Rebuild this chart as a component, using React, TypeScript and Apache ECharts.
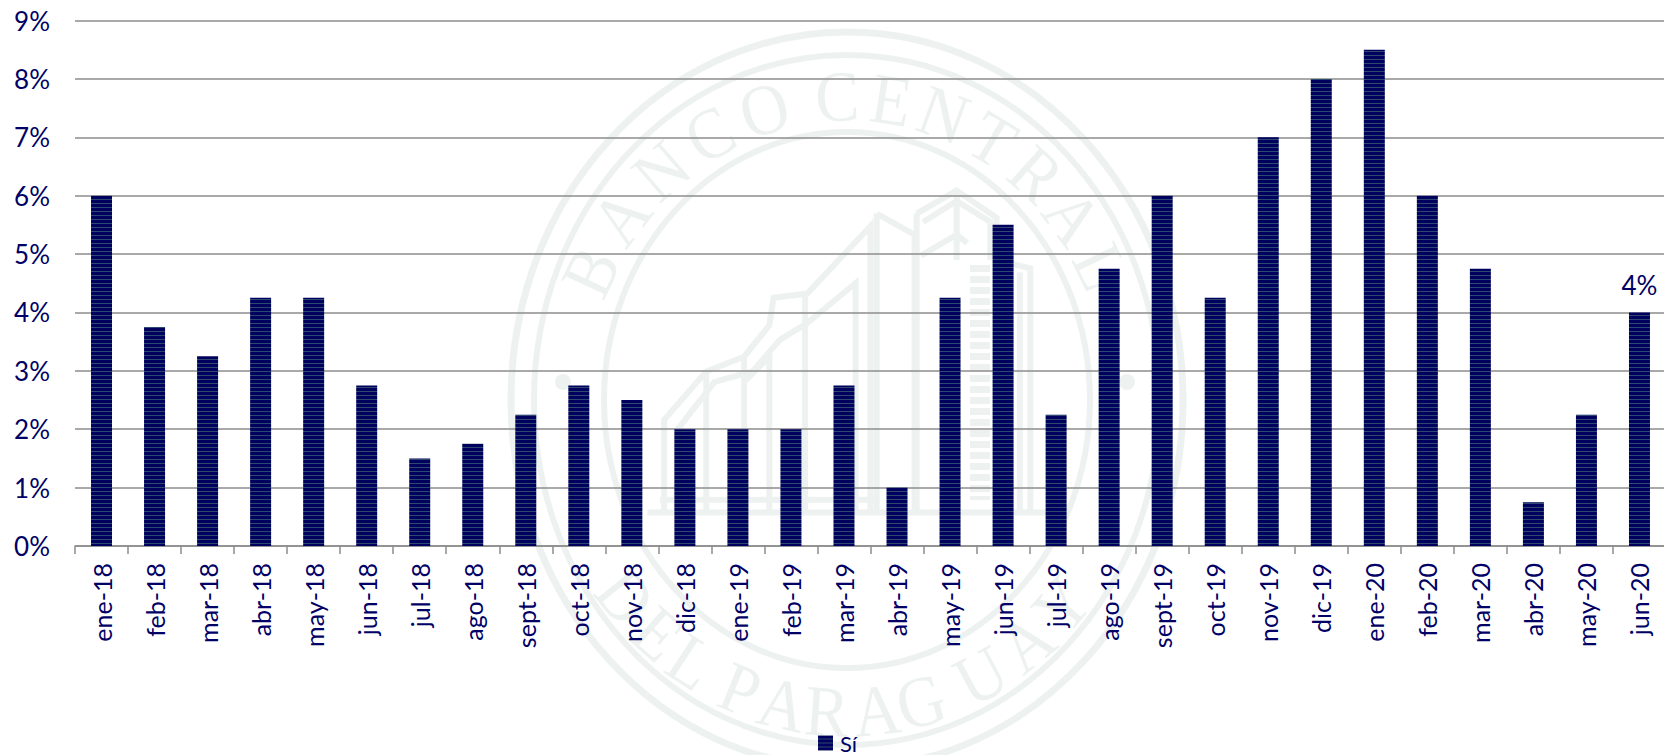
import React, { useEffect, useRef } from "react";
import * as echarts from "echarts";

const categories = [
  "ene-18", "feb-18", "mar-18", "abr-18", "may-18", "jun-18", "jul-18", "ago-18", "sept-18", "oct-18",
  "nov-18", "dic-18", "ene-19", "feb-19", "mar-19", "abr-19", "may-19", "jun-19", "jul-19", "ago-19",
  "sept-19", "oct-19", "nov-19", "dic-19", "ene-20", "feb-20", "mar-20", "abr-20", "may-20", "jun-20",
];
const values = [
  6, 3.75, 3.25, 4.25, 4.25, 2.75, 1.5, 1.75, 2.25, 2.75,
  2.5, 2, 2, 2, 2.75, 1, 4.25, 5.5, 2.25, 4.75,
  6, 4.25, 7, 8, 8.5, 6, 4.75, 0.75, 2.25, 4,
];
const seriesName = "Sí";
const labelledIndex = 29;

const NAVY = "#000066";
const GRID = "#8c8c8c";
const WM = "#edf2f0";
const FONT = "Lato, 'Open Sans', sans-serif";

const CX = 847;
const CY = 400;

const topLetters: [string, number][] = [
  ["B", -65], ["A", -53], ["N", -41], ["C", -29], ["O", -17], ["C", -2], ["E", 9], ["N", 20], ["T", 31], ["R", 42], ["A", 53], ["L", 64],
];
const bottomLetters: [string, number][] = [
  ["D", -51], ["E", -41.5], ["L", -33], ["P", -22], ["A", -13], ["R", -4], ["A", 6], ["G", 15], ["U", 28], ["A", 39], ["Y", 49],
];

const fromZoom = (pts: number[][]) => pts.map(([x, y]) => [500 + x / 2.376, 20 + y / 2.376]);
const buildingLines: number[][][] = [
  [[390, 1170], [390, 950], [490, 835], [580, 800], [640, 725], [650, 660], [730, 650], [880, 490], [880, 1175]],
  [[420, 1170], [420, 975], [510, 860], [600, 835], [665, 760], [730, 720], [845, 625], [845, 1175]],
  [[490, 835], [490, 1170]],
  [[580, 800], [580, 1170]],
  [[725, 650], [725, 1170]],
  [[580, 860], [640, 800], [640, 1170]],
  [[895, 460], [985, 510], [985, 1175]],
  [[895, 460], [895, 1175]],
  [[990, 460], [1085, 405], [1180, 470], [1180, 570]],
  [[1005, 480], [1085, 430], [1165, 480], [1165, 570]],
  [[990, 460], [990, 1175]],
  [[1085, 405], [1085, 570]],
  [[1000, 560], [1085, 510], [1110, 530]],
  [[1180, 570], [1260, 590], [1260, 1175]],
  [[1235, 600], [1235, 1175]],
  [[350, 1170], [1300, 1170]],
  [[380, 1140], [900, 1140]],
];

function stripePattern() {
  const c = document.createElement("canvas");
  c.width = 4;
  c.height = 4;
  const ctx = c.getContext("2d")!;
  ctx.fillStyle = "#00005f";
  ctx.fillRect(0, 0, 4, 4);
  ctx.fillStyle = "#2c4a6e";
  ctx.fillRect(0, 3, 4, 1);
  return c;
}

const fromZoomAll = () => buildingLines.map(fromZoom);

function watermark() {
  const els: any[] = [];
  const ring = (rx: number, ry: number, w: number) =>
    els.push({ type: "ellipse", z: -10, silent: true, shape: { cx: CX, cy: CY, rx, ry }, style: { fill: "none", stroke: WM, lineWidth: w } });
  ring(336, 368, 7);
  ring(313, 345, 6);
  ring(243, 268, 6);
  const letter = (t: string, x: number, y: number, rotation: number) =>
    els.push({
      type: "text", z: -10, silent: true, x, y, rotation, scaleX: 0.92,
      style: { text: t, fill: WM, font: "400 72px 'Liberation Serif', serif", align: "center", verticalAlign: "middle" },
    });
  topLetters.forEach(([t, d]) => {
    const r = (d * Math.PI) / 180;
    letter(t, CX + 283 * Math.sin(r), CY - 304 * Math.cos(r), -r);
  });
  bottomLetters.forEach(([t, d]) => {
    const r = (d * Math.PI) / 180;
    letter(t, CX + 285 * Math.sin(r), CY + 312 * Math.cos(r), r);
  });
  fromZoomAll().forEach((points) =>
    els.push({ type: "polyline", z: -10, silent: true, shape: { points }, style: { fill: "none", stroke: WM, lineWidth: 6 } })
  );
  els.push({
    type: "line", z: -10, silent: true, shape: { x1: 980, y1: 265, x2: 980, y2: 500 },
    style: { stroke: WM, lineWidth: 20, lineDash: [7, 4] },
  });
  [[563, 382], [1127, 382]].forEach(([cx, cy]) =>
    els.push({ type: "circle", z: -10, silent: true, shape: { cx, cy, r: 8 }, style: { fill: WM } })
  );
  return els;
}

export default function App() {
  const ref = useRef<HTMLDivElement>(null);
  useEffect(() => {
    const chart = echarts.init(ref.current!, undefined, { renderer: "svg" });
    const pattern = { image: stripePattern(), repeat: "repeat" };
    chart.setOption({
      animation: false,
      backgroundColor: "#ffffff",
      textStyle: { fontFamily: FONT },
      graphic: { elements: watermark() },
      grid: { left: 75, top: 20.5, width: 1591, height: 525.5, containLabel: false },
      legend: {
        show: true,
        left: 813,
        top: 727,
        icon: "rect",
        itemWidth: 15,
        itemHeight: 15,
        itemGap: 0,
        data: [seriesName],
        textStyle: { color: NAVY, fontSize: 22, lineHeight: 20, fontFamily: FONT, padding: [0, 0, 0, 2] },
      },
      xAxis: {
        type: "category",
        data: categories,
        boundaryGap: true,
        axisLine: { show: true, lineStyle: { color: GRID, width: 1.5 } },
        axisTick: { show: true, alignWithLabel: false, length: 8, lineStyle: { color: GRID, width: 1.5 } },
        axisLabel: { interval: 0, rotate: 90, margin: 17, color: NAVY, fontSize: 25, fontFamily: FONT },
        splitLine: { show: false },
      },
      yAxis: {
        type: "value",
        min: 0,
        max: 9,
        interval: 1,
        axisLine: { show: false },
        axisTick: { show: false },
        axisLabel: { formatter: "{value}%", margin: 25, color: NAVY, fontSize: 26, fontFamily: FONT },
        splitLine: { show: true, lineStyle: { color: GRID, width: 1.5, type: "solid" } },
      },
      series: [
        {
          name: seriesName,
          type: "bar",
          barWidth: 21,
          itemStyle: { color: pattern },
          data: values.map((v, i) =>
            i === labelledIndex
              ? {
                  value: v,
                  label: {
                    show: true,
                    position: "top",
                    distance: 14,
                    formatter: "{c}%",
                    color: NAVY,
                    fontSize: 26,
                    fontFamily: FONT,
                  },
                }
              : v
          ),
        },
      ],
    });
    return () => chart.dispose();
  }, []);
  return (
    <div style={{ position: "absolute", left: 0, top: 0, width: 1664, height: 755, overflow: "hidden" }}>
      <div ref={ref} style={{ width: 1680, height: 755 }} />
    </div>
  );
}
